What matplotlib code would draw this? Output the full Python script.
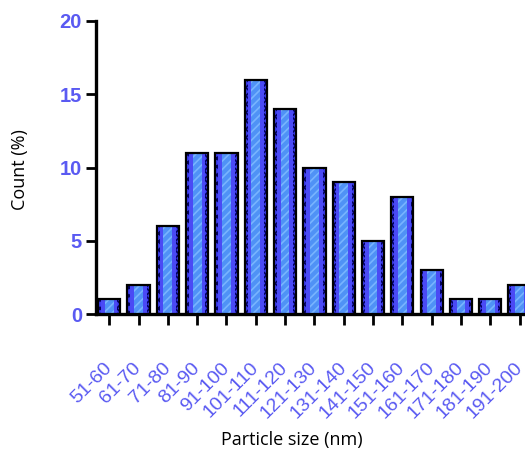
import numpy as np
import matplotlib
matplotlib.use("Agg")
import matplotlib.pyplot as plt

# particle size distribution
size_bins = ["51-60", "61-70", "71-80", "81-90", "91-100", "101-110", "111-120",
             "121-130", "131-140", "141-150", "151-160", "161-170", "171-180",
             "181-190", "191-200"]
counts = [1, 2, 6, 11, 11, 16, 14, 10, 9, 5, 8, 3, 1, 1, 2]

tick_blue = "#5a5af2"
plt.rcParams["hatch.linewidth"] = 1.2

fig = plt.figure(figsize=(5.25, 4.54), dpi=100)
ax = fig.add_axes([96 / 525, 140 / 454, 1 - 96 / 525 + 0.002, 293 / 454])

x = np.arange(len(counts))
# outer bar with dark speckled edges
ax.bar(x, counts, width=0.76, color="#3d3df2", hatch="xxxx", edgecolor="#000060",
       linewidth=0, zorder=2)
ax.bar(x, counts, width=0.56, color="#4a4af5", linewidth=0, zorder=3)
# lighter hatched core
ax.bar(x, np.array(counts) - 0.12, width=0.3, bottom=0.06, color="#4f92f6",
       hatch="////", edgecolor="#78b4ff", linewidth=0, zorder=4)
# black outline
ax.bar(x, counts, width=0.76, fill=False, edgecolor="black", linewidth=1.6, zorder=5)

ax.set_xlim(-0.45, 14.22)
ax.set_ylim(0, 20)
ax.set_yticks([0, 5, 10, 15, 20])
ax.set_xticks(x)
ax.set_xticklabels(size_bins, rotation=45, ha="right", va="center",
                   rotation_mode="anchor", fontsize=14, family="Liberation Sans",
                   color=tick_blue)
ax.set_yticklabels([0, 5, 10, 15, 20], fontsize=14.5, fontweight="bold",
                   family="Liberation Sans", color=tick_blue)
ax.tick_params(axis="x", length=8, width=2, pad=29)
ax.tick_params(axis="y", length=7, width=2, pad=3)

for side in ["top", "right"]:
    ax.spines[side].set_visible(False)
for side in ["left", "bottom"]:
    ax.spines[side].set_linewidth(2.4)

fig.text(20 / 525, 1 - 170 / 454, "Count (%)", fontsize=13, family="Open Sans",
         rotation=90, ha="center", va="center")
fig.text(292 / 525, 1 - 440 / 454, "Particle size (nm)", fontsize=13,
         family="Open Sans", ha="center", va="center")

fig.savefig("out.png", dpi=100)
